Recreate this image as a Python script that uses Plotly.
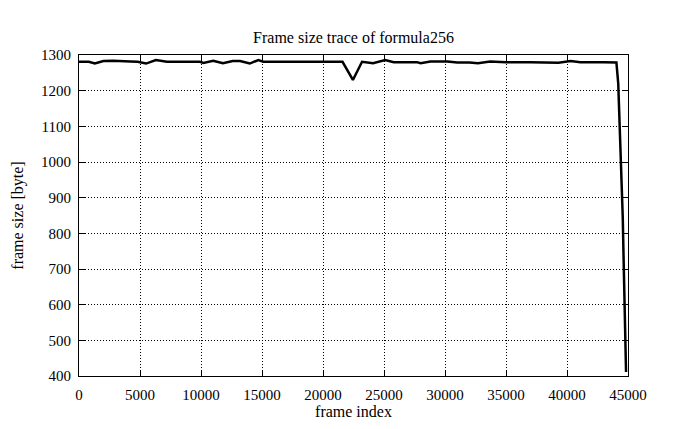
import plotly.graph_objects as go

frame_index = [0, 800, 1300, 2000, 2800, 3400, 4200, 4800, 5500, 6300, 7200, 8500, 9900,
               10200, 11000, 11800, 12600, 13200, 14000, 14700, 15100, 17000, 19000, 21600,
               22450, 23200, 24100, 25100, 25800, 27700, 28000, 28800, 30200, 31000, 32000,
               32700, 33700, 35000, 37000, 38800, 39300, 40300, 41100, 43000, 44050,
               44200, 44300, 44400, 44480, 44570, 44620, 44670, 44750, 44810, 44840]
frame_size = [1281, 1281, 1276, 1283, 1284, 1284, 1282, 1281, 1276, 1286, 1281, 1281, 1281,
              1278, 1284, 1277, 1283, 1283, 1276, 1286, 1281, 1281, 1281, 1281,
              1230, 1281, 1277, 1286, 1280, 1280, 1277, 1282, 1282, 1279, 1279,
              1277, 1282, 1280, 1280, 1280, 1278, 1283, 1280, 1280, 1279,
              1220, 1130, 1035, 940, 846, 760, 661, 570, 473, 411]

x_ticks = list(range(0, 45001, 5000))
y_ticks = list(range(400, 1301, 100))

font = "Liberation Serif, Times New Roman, serif"

fig = go.Figure()
fig.add_trace(go.Scatter(x=frame_index, y=frame_size, mode="lines",
                         line=dict(color="black", width=2.5), showlegend=False))

axis_common = dict(showline=True, linecolor="black", linewidth=1, mirror="ticks",
                   ticks="inside", ticklen=6, tickcolor="black", tickwidth=1,
                   showgrid=True, gridcolor="black", gridwidth=1, griddash="1px,2px",
                   zeroline=False, automargin=False,
                   tickfont=dict(family=font, size=15, color="black"))

# page body has an 8px margin, so the figure is offset by 8px in the screenshot
fig.update_layout(
    width=695, height=429,
    margin=dict(l=71, r=75, t=47, b=61),
    paper_bgcolor="white", plot_bgcolor="white",
    title=dict(text="Frame size trace of formula256", x=(71 + 620) / 2 / 695, xanchor="center",
               y=1 - 29 / 429, yanchor="middle", font=dict(family=font, size=16, color="black")),
    xaxis=dict(range=[0, 45000], tickvals=x_ticks, ticktext=[str(v) for v in x_ticks],
               ticklabelstandoff=5,
               title=dict(text="frame index", font=dict(family=font, size=16, color="black"), standoff=3),
               **axis_common),
    yaxis=dict(range=[400, 1300], tickvals=y_ticks, ticktext=[str(v) for v in y_ticks],
               ticklabelstandoff=4,
               title=dict(text="frame size [byte]", font=dict(family=font, size=16, color="black"), standoff=13),
               **axis_common),
)

fig.write_html("out.html")
